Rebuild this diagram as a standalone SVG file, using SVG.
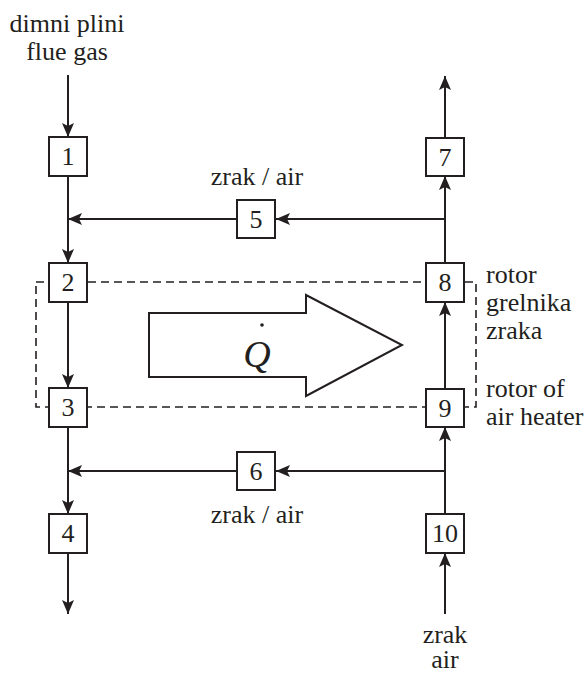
<svg xmlns="http://www.w3.org/2000/svg" width="587" height="674" viewBox="0 0 587 674">
<defs>
<marker id="ah" viewBox="0 0 14 12" refX="14" refY="6" markerWidth="14" markerHeight="12" markerUnits="userSpaceOnUse" orient="auto">
<path d="M0,0 L14,6 L0,12 L3,6 Z" fill="#231f20"/>
</marker>
</defs>
<rect width="587" height="674" fill="#fff"/>
<g id="boundary"><rect x="36" y="282" width="440" height="125" fill="none" stroke="#231f20" stroke-width="1.6" stroke-dasharray="8 5"/></g>
<g id="connectors" stroke="#231f20" stroke-width="2" fill="none">
<line x1="68" y1="75" x2="68" y2="137" marker-end="url(#ah)"/>
<line x1="68" y1="176" x2="68" y2="263" marker-end="url(#ah)"/>
<line x1="68" y1="302" x2="68" y2="388" marker-end="url(#ah)"/>
<line x1="68" y1="427" x2="68" y2="514" marker-end="url(#ah)"/>
<line x1="68" y1="553" x2="68" y2="614" marker-end="url(#ah)"/>
<line x1="445" y1="614" x2="445" y2="553" marker-end="url(#ah)"/>
<line x1="445" y1="514" x2="445" y2="427" marker-end="url(#ah)"/>
<line x1="445" y1="389" x2="445" y2="302" marker-end="url(#ah)"/>
<line x1="445" y1="263" x2="445" y2="176" marker-end="url(#ah)"/>
<line x1="445" y1="138" x2="445" y2="76" marker-end="url(#ah)"/>
<line x1="445" y1="219" x2="276" y2="219" marker-end="url(#ah)"/>
<line x1="237" y1="219" x2="68" y2="219" marker-end="url(#ah)"/>
<line x1="445" y1="471" x2="276" y2="471" marker-end="url(#ah)"/>
<line x1="237" y1="471" x2="68" y2="471" marker-end="url(#ah)"/>
</g>
<g id="heat">
<polygon points="149,313 306,313 306,295 402,345 306,396 306,377 149,377" fill="#fff" stroke="#231f20" stroke-width="2"/>
<text x="257" y="367" style="font-family:'Liberation Serif';font-style:italic;font-size:38px" fill="#231f20" text-anchor="middle">Q</text>
<circle cx="262" cy="325" r="1.8" fill="#231f20"/>
</g>
<g id="n1"><rect x="49" y="137" width="38" height="39" fill="#fff" stroke="#231f20" stroke-width="2"/><text x="68" y="165" style="font-family:'Liberation Serif';font-size:26px" fill="#231f20" text-anchor="middle">1</text></g>
<g id="n2"><rect x="49" y="263" width="38" height="39" fill="#fff" stroke="#231f20" stroke-width="2"/><text x="68" y="291" style="font-family:'Liberation Serif';font-size:26px" fill="#231f20" text-anchor="middle">2</text></g>
<g id="n3"><rect x="49" y="388" width="38" height="39" fill="#fff" stroke="#231f20" stroke-width="2"/><text x="68" y="416" style="font-family:'Liberation Serif';font-size:26px" fill="#231f20" text-anchor="middle">3</text></g>
<g id="n4"><rect x="49" y="514" width="38" height="39" fill="#fff" stroke="#231f20" stroke-width="2"/><text x="68" y="542" style="font-family:'Liberation Serif';font-size:26px" fill="#231f20" text-anchor="middle">4</text></g>
<g id="n5"><rect x="237" y="200" width="38" height="38" fill="#fff" stroke="#231f20" stroke-width="2"/><text x="256" y="228" style="font-family:'Liberation Serif';font-size:26px" fill="#231f20" text-anchor="middle">5</text></g>
<g id="n6"><rect x="237" y="452" width="38" height="38" fill="#fff" stroke="#231f20" stroke-width="2"/><text x="256" y="480" style="font-family:'Liberation Serif';font-size:26px" fill="#231f20" text-anchor="middle">6</text></g>
<g id="n7"><rect x="426" y="138" width="38" height="38" fill="#fff" stroke="#231f20" stroke-width="2"/><text x="445" y="166" style="font-family:'Liberation Serif';font-size:26px" fill="#231f20" text-anchor="middle">7</text></g>
<g id="n8"><rect x="426" y="263" width="38" height="39" fill="#fff" stroke="#231f20" stroke-width="2"/><text x="445" y="291" style="font-family:'Liberation Serif';font-size:26px" fill="#231f20" text-anchor="middle">8</text></g>
<g id="n9"><rect x="426" y="389" width="38" height="38" fill="#fff" stroke="#231f20" stroke-width="2"/><text x="445" y="417" style="font-family:'Liberation Serif';font-size:26px" fill="#231f20" text-anchor="middle">9</text></g>
<g id="n10"><rect x="426" y="514" width="38" height="39" fill="#fff" stroke="#231f20" stroke-width="2"/><text x="445" y="542" style="font-family:'Liberation Serif';font-size:26px" fill="#231f20" text-anchor="middle">10</text></g>
<g id="labels" fill="#231f20">
<text x="67" y="32" style="font-family:'Liberation Serif';font-size:26px" text-anchor="middle">dimni plini</text>
<text x="67" y="60" style="font-family:'Liberation Serif';font-size:26px" text-anchor="middle">flue gas</text>
<text x="257" y="185" style="font-family:'Liberation Serif';font-size:26px" text-anchor="middle">zrak / air</text>
<text x="257" y="523" style="font-family:'Liberation Serif';font-size:26px" text-anchor="middle">zrak / air</text>
<text x="486" y="283" style="font-family:'Liberation Serif';font-size:26px">rotor</text>
<text x="486" y="311" style="font-family:'Liberation Serif';font-size:26px">grelnika</text>
<text x="486" y="339" style="font-family:'Liberation Serif';font-size:26px">zraka</text>
<text x="486" y="397" style="font-family:'Liberation Serif';font-size:26px">rotor of</text>
<text x="486" y="425" style="font-family:'Liberation Serif';font-size:26px">air heater</text>
<text x="445" y="643" style="font-family:'Liberation Serif';font-size:26px" text-anchor="middle">zrak</text>
<text x="445" y="668" style="font-family:'Liberation Serif';font-size:26px" text-anchor="middle">air</text>
</g>
</svg>
